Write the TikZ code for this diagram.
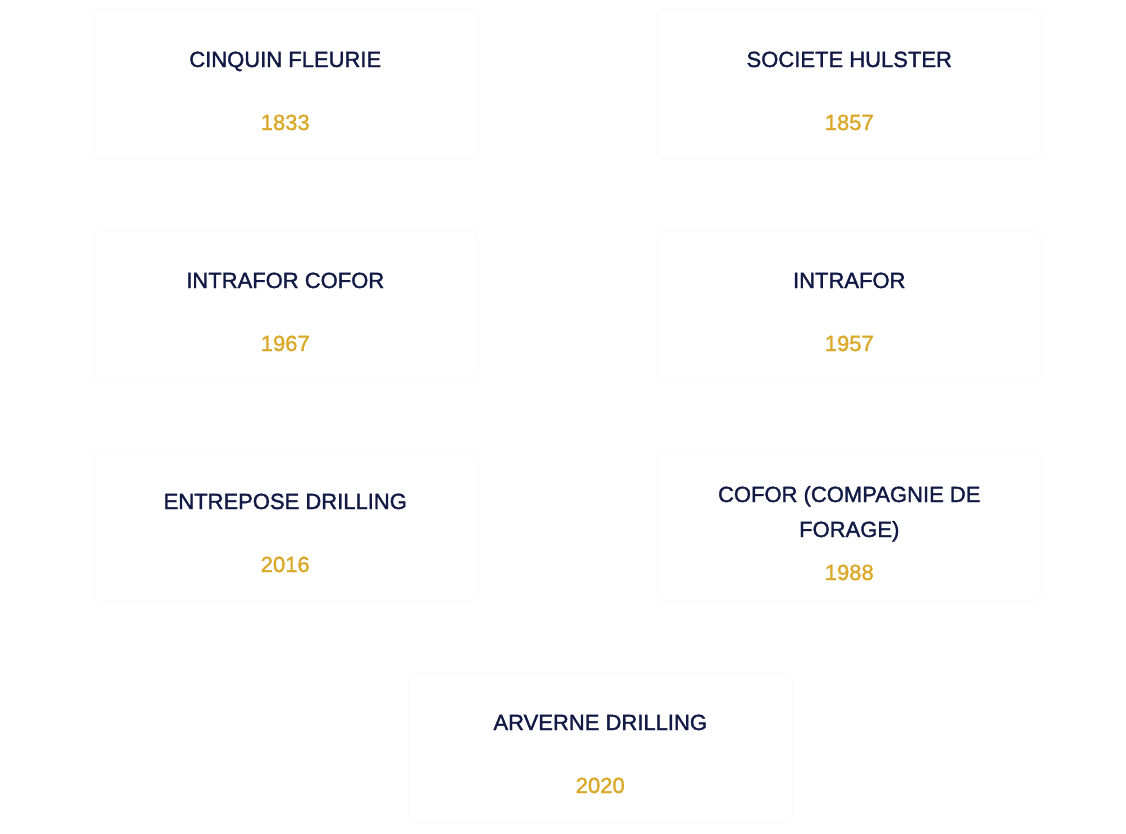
\documentclass[tikz,border=0pt]{standalone}
\usepackage{fontspec}
\setmainfont{Liberation Sans}
\usetikzlibrary{backgrounds}
\definecolor{navy}{HTML}{101A45}
\definecolor{gold}{HTML}{DBA92A}
\tikzset{
  card/.style={draw=black!3, line width=0.5pt, fill=white, rounded corners=8pt,
    minimum width=384pt, minimum height=150pt, anchor=north west, inner sep=0pt},
  ttl/.style={anchor=base, text=navy, font=\fontsize{22}{26}\selectfont\addfontfeature{FakeBold=1.5}, inner sep=0pt},
  yr/.style={anchor=base, text=gold, font=\fontsize{22}{26}\selectfont\addfontfeature{FakeBold=1.5}, inner sep=0pt}
}
\begin{document}
\begin{tikzpicture}[x=1pt,y=-1pt]
\useasboundingbox[fill=white] (0,0) rectangle (1126,833);
% cards
\node[card] (c1) at (93,9) {};
\node[card] (c2) at (657,9) {};
\node[card] (c3) at (93,230) {};
\node[card] (c4) at (657,230) {};
\node[card] (c5) at (93,451) {};
\node[card] (c6) at (657,451) {};
\node[card] (c7) at (408,672) {};
% soft shadows
\begin{scope}[on background layer]
\fill[white] (0,0) rectangle (1126,833);
\foreach \c in {c1,c2,c3,c4,c5,c6,c7}{
  \foreach \i in {1,...,8}{
    \fill[black, opacity=0.022, rounded corners=8pt+\i pt]
      ([xshift=-\i pt, yshift=\i pt-1.5pt]\c.north west) rectangle ([xshift=\i pt, yshift=-\i pt-1.5pt]\c.south east);
  }
}
\end{scope}
% texts
\node[ttl] (t1) at ([yshift=-58pt]c1.north) {CINQUIN FLEURIE};
\node[yr]  (y1) at ([yshift=-121pt]c1.north) {1833};
\node[ttl] (t2) at ([yshift=-58pt]c2.north) {SOCIETE HULSTER};
\node[yr]  (y2) at ([yshift=-121pt]c2.north) {1857};
\node[ttl] (t3) at ([yshift=-58pt]c3.north) {INTRAFOR COFOR};
\node[yr]  (y3) at ([yshift=-121pt]c3.north) {1967};
\node[ttl] (t4) at ([yshift=-58pt]c4.north) {INTRAFOR};
\node[yr]  (y4) at ([yshift=-121pt]c4.north) {1957};
\node[ttl] (t5) at ([yshift=-58pt]c5.north) {ENTREPOSE DRILLING};
\node[yr]  (y5) at ([yshift=-121pt]c5.north) {2016};
\node[ttl] (t6a) at ([yshift=-51pt]c6.north) {COFOR (COMPAGNIE DE};
\node[ttl] (t6b) at ([yshift=-86pt]c6.north) {FORAGE)};
\node[yr]  (y6) at ([yshift=-129pt]c6.north) {1988};
\node[ttl] (t7) at ([yshift=-58pt]c7.north) {ARVERNE DRILLING};
\node[yr]  (y7) at ([yshift=-121pt]c7.north) {2020};
\end{tikzpicture}
\end{document}
